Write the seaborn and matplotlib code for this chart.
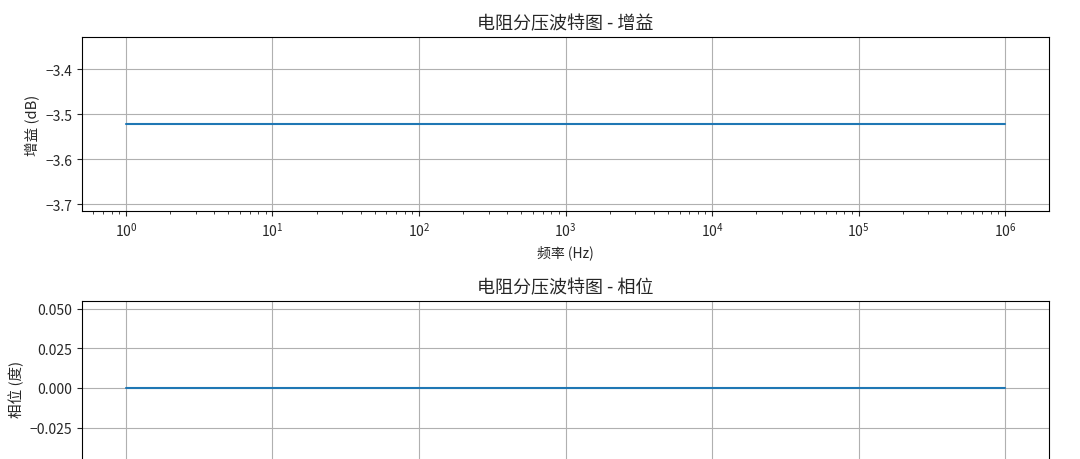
import matplotlib
matplotlib.use("Agg")
import matplotlib.pyplot as plt
from matplotlib.ticker import MultipleLocator, FuncFormatter
import seaborn as sns
import pandas as pd

# ---- data ----
freq_hz = [1, 10, 100, 1000, 10000, 100000, 1000000]
gain_db = [-3.5218, -3.5218, -3.5218, -3.5218, -3.5218, -3.5218, -3.5218]
phase_deg = [0.0, 0.0, 0.0, 0.0, 0.0, 0.0, 0.0]

title_gain = "电阻分压波特图 - 增益"
title_phase = "电阻分压波特图 - 相位"
xlabel = "频率 (Hz)"
ylabel_gain = "增益 (dB)"
ylabel_phase = "相位 (度)"

sns.set_style("ticks")
plt.rcParams["font.family"] = ["Noto Sans CJK SC", "DejaVu Sans"]
plt.rcParams["axes.unicode_minus"] = True

df = pd.DataFrame({"freq": freq_hz, "gain": gain_db, "phase": phase_deg})

fig = plt.figure(figsize=(10.8, 4.6), dpi=100)
left, width, height = 82 / 1080, 967 / 1080, 174 / 460
ax1 = fig.add_axes([left, 1 - 212 / 460, width, height])
ax2 = fig.add_axes([left, 1 - 302 / 460 - height, width, height])

for ax, col, title, ylab in [
    (ax1, "gain", title_gain, ylabel_gain),
    (ax2, "phase", title_phase, ylabel_phase),
]:
    ax.set_xscale("log")
    sns.lineplot(data=df, x="freq", y=col, ax=ax, color="#1f77b4", linewidth=1.5)
    ax.set_title(title, fontsize=13)
    ax.set_xlabel(xlabel, fontsize=10)
    ax.set_ylabel(ylab, fontsize=10.5)
    ax.grid(True, which="major", color="#b0b0b0", linewidth=0.8)
    ax.tick_params(labelsize=10)
    for s in ax.spines.values():
        s.set_color("black")
        s.set_linewidth(0.8)

ax1.yaxis.set_major_locator(MultipleLocator(0.1))
ax2.yaxis.set_major_locator(MultipleLocator(0.025))
ax2.yaxis.set_major_formatter(
    FuncFormatter(lambda v, p: f"{v:.3f}".replace("-", "\u2212") if abs(v) > 1e-12 else "0.000")
)

fig.savefig("out.png", dpi=100)
